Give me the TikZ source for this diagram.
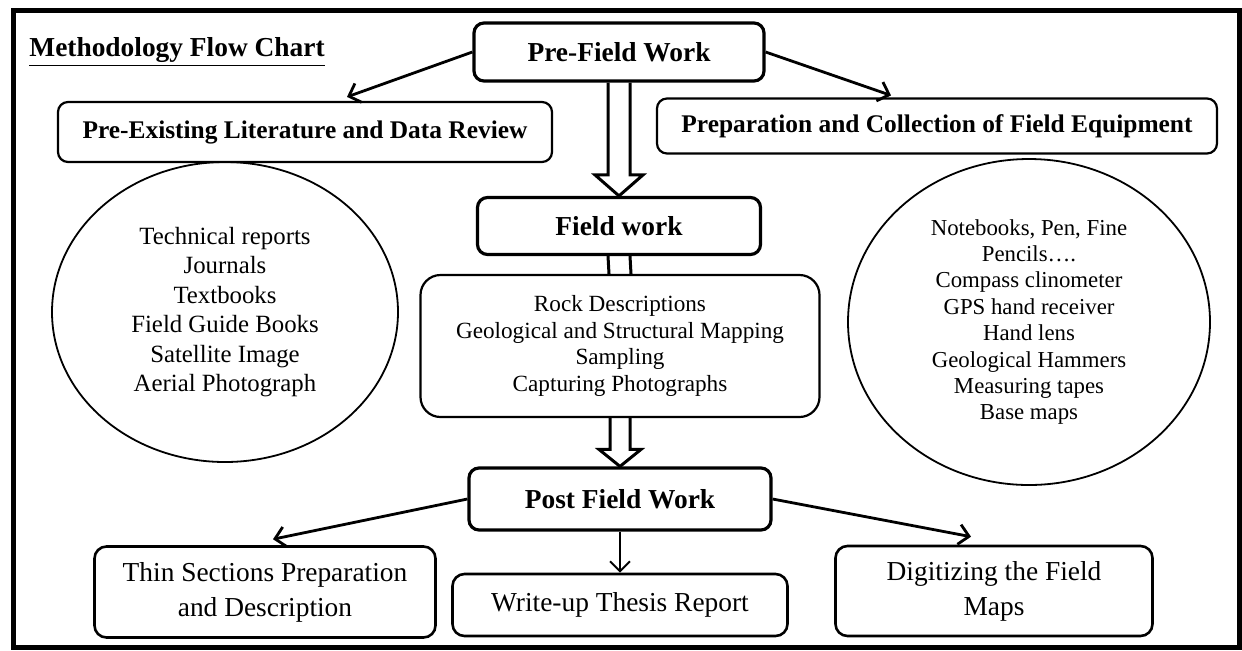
\documentclass[tikz,border=0pt]{standalone}
\usepackage{fontspec}
\setmainfont{Liberation Serif}
\usetikzlibrary{shapes.geometric,arrows.meta,calc}

\begin{document}
\begin{tikzpicture}[x=0.5pt,y=-0.5pt,
  box/.style={draw,rounded corners=5pt,line width=1.1pt,align=center,inner sep=2pt},
  head/.style={box,line width=1.6pt,font=\bfseries\fontsize{13.7}{16}\selectfont},
  sub/.style={box,font=\bfseries\fontsize{12.7}{15}\selectfont},
  last/.style={box,line width=1.3pt,rounded corners=6pt,font=\fontsize{13.7}{17.5}\selectfont},
  oval/.style={draw,ellipse,line width=0.9pt,align=center,inner sep=0pt},
  link/.style={line width=1.4pt,-{Straight Barb[length=5pt,width=10pt]}},
  hollow/.style={line width=1.5pt,line join=miter}]

\useasboundingbox (0,0) rectangle (1242,650);
\draw[line width=2.5pt] (13,10) rectangle (1239,647);

\node[anchor=west,inner sep=0pt,font=\bfseries\fontsize{13.7}{16}\selectfont] (title) at (29,52) {\underline{Methodology Flow Chart}};

\node[head,minimum width=145pt,minimum height=29pt] (pre) at (619,52) {Pre-Field Work};
\node[sub,minimum width=247pt,minimum height=30pt] (lit) at (305,132) {Pre-Existing Literature and Data Review};
\node[sub,minimum width=280pt,minimum height=27.5pt] (equip) at (937,126) {Preparation and Collection of Field Equipment};

\node[oval,minimum width=173pt,minimum height=150pt,font=\fontsize{12.4}{14.7}\selectfont] (sources) at (225,312)
  {Technical reports\\Journals\\Textbooks\\Field Guide Books\\Satellite Image\\Aerial Photograph};
\node[oval,minimum width=181pt,minimum height=163pt,font=\fontsize{11.4}{13.2}\selectfont] (tools) at (1029,322)
  {Notebooks, Pen, Fine\\Pencils….\\Compass clinometer\\GPS hand receiver\\Hand lens\\Geological Hammers\\Measuring tapes\\Base maps};

\node[head,minimum width=141.5pt,minimum height=28.5pt] (field) at (619,226) {Field work};
\node[box,rounded corners=10pt,minimum width=199.5pt,minimum height=71pt,font=\fontsize{11.6}{13.3}\selectfont] (rock) at (620,346)
  {Rock Descriptions\\Geological and Structural Mapping\\Sampling\\Capturing Photographs};
\node[head,minimum width=151pt,minimum height=31pt] (post) at (620,499) {Post Field Work};

\node[last,minimum width=170.5pt,minimum height=45.5pt] (thin) at (265,592) {Thin Sections Preparation\\and Description};
\node[last,minimum width=167.5pt,minimum height=31pt] (write) at (620,605) {Write-up Thesis Report};
\node[last,minimum width=158.5pt,minimum height=45pt] (digit) at (994,591) {Digitizing the Field\\Maps};

\draw[link] (pre.west) -- ([xshift=21pt,yshift=2pt]lit.north);
\draw[link] (pre.east) -- ([xshift=-23pt,yshift=1pt]equip.north);

\draw[hollow] ($(pre.south)+(-11,0)$) -- ($(field.north)+(-11,-21)$) -- ($(field.north)+(-24,-21)$)
  -- (field.north) -- ($(field.north)+(24,-21)$) -- ($(field.north)+(11,-21)$) -- ($(pre.south)+(11,0)$);
\draw[hollow] ($(field.south)+(-11,0)$) -- ($(rock.north)+(-11,0)$)
  ($(field.south)+(11,0)$) -- ($(rock.north)+(11,0)$);
\draw[hollow] ($(rock.south)+(-10,0)$) -- ($(post.north)+(-10,-17)$) -- ($(post.north)+(-21,-17)$)
  -- (post.north) -- ($(post.north)+(21,-17)$) -- ($(post.north)+(10,-17)$) -- ($(rock.south)+(10,0)$);

\draw[link] (post.west) -- ([xshift=4pt,yshift=3pt]thin.north);
\draw[link,line width=1pt] (post.south) -- (write.north);
\draw[link] (post.east) -- ([xshift=-11.5pt,yshift=4pt]digit.north);

\end{tikzpicture}
\end{document}
